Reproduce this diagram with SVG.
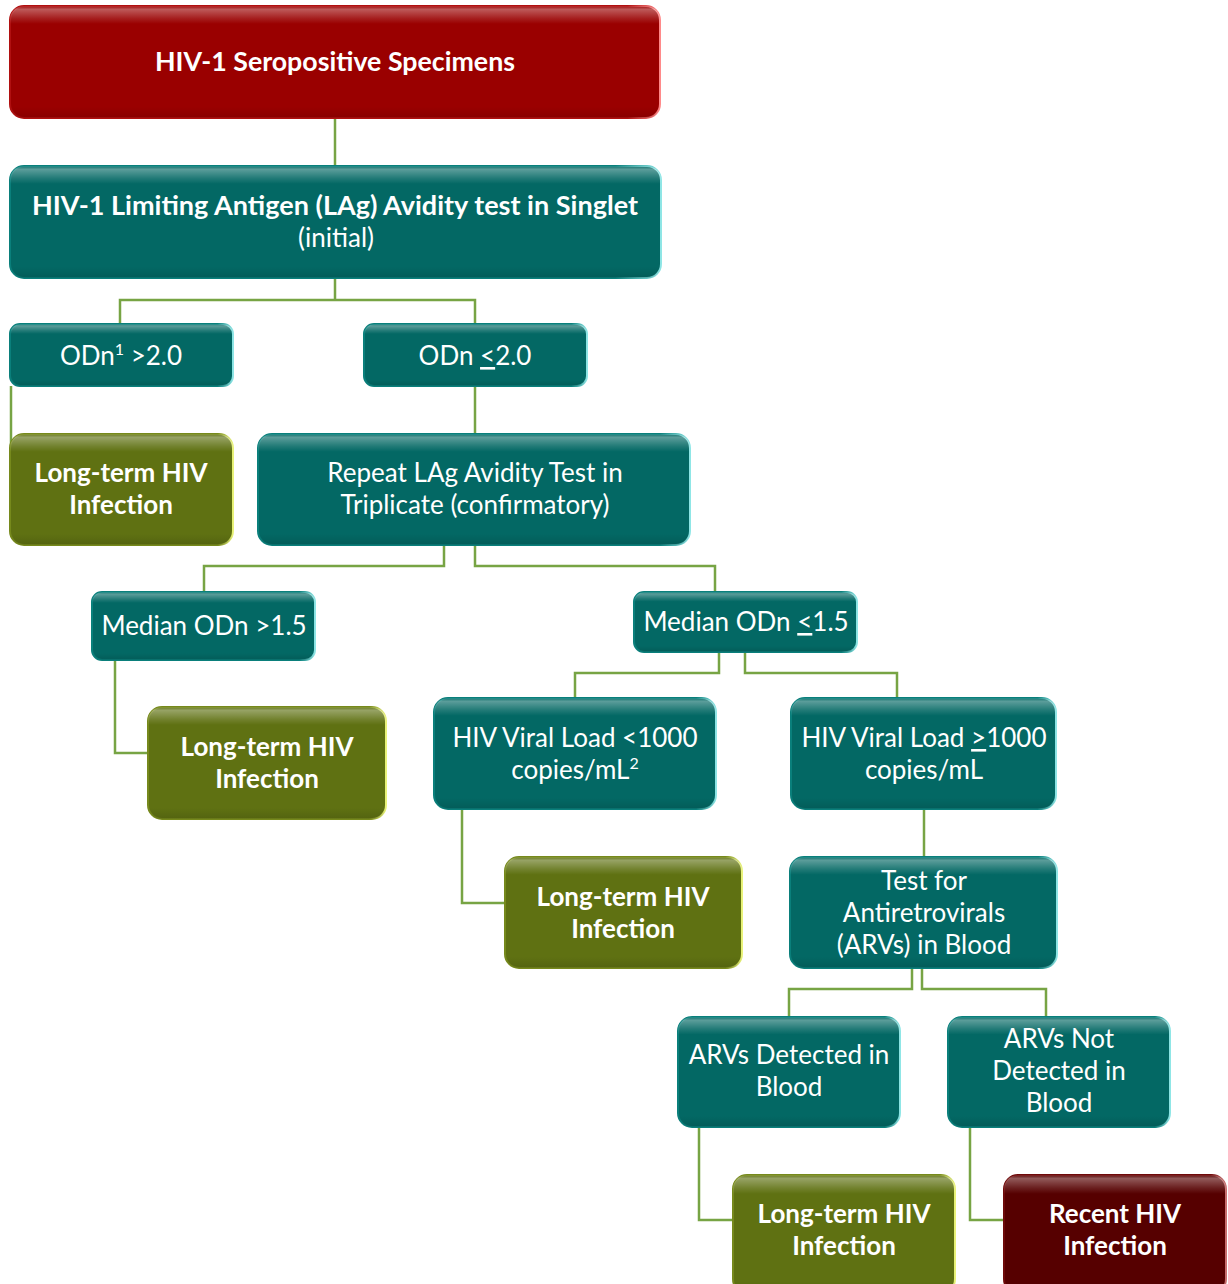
<svg xmlns="http://www.w3.org/2000/svg" width="1228" height="1284" viewBox="0 0 1228 1284">
<defs>
<linearGradient id="gTop" x1="0" y1="0" x2="0" y2="1">
<stop offset="0" stop-color="#fff" stop-opacity="0.05"/>
<stop offset="0.03" stop-color="#fff" stop-opacity="0.35"/>
<stop offset="0.11" stop-color="#fff" stop-opacity="0.12"/>
<stop offset="0.16" stop-color="#fff" stop-opacity="0"/>
<stop offset="0.9" stop-color="#000" stop-opacity="0"/>
<stop offset="1" stop-color="#000" stop-opacity="0.12"/>
</linearGradient>
<linearGradient id="eTeal" x1="0" y1="0" x2="1" y2="0">
<stop offset="0" stop-color="#0a7f7b"/><stop offset="0.93" stop-color="#0a7f7b"/><stop offset="1" stop-color="#8fe6e6"/>
</linearGradient>
<linearGradient id="eRed" x1="0" y1="0" x2="1" y2="0">
<stop offset="0" stop-color="#b01010"/><stop offset="0.95" stop-color="#b01010"/><stop offset="1" stop-color="#ff8a8a"/>
</linearGradient>
<linearGradient id="eOlive" x1="0" y1="0" x2="1" y2="0">
<stop offset="0" stop-color="#76891c"/><stop offset="0.93" stop-color="#76891c"/><stop offset="1" stop-color="#e9f37a"/>
</linearGradient>
<linearGradient id="eDark" x1="0" y1="0" x2="1" y2="0">
<stop offset="0" stop-color="#6e0a0a"/><stop offset="0.93" stop-color="#6e0a0a"/><stop offset="1" stop-color="#c87070"/>
</linearGradient>
<style>
.teal .b{fill:#036864;stroke:url(#eTeal);stroke-width:2}
.red .b{fill:#9a0000;stroke:url(#eRed);stroke-width:2}
.olive .b{fill:#5f7112;stroke:url(#eOlive);stroke-width:2}
.dark .b{fill:#560000;stroke:url(#eDark);stroke-width:2}
.h{fill:url(#gTop);stroke:none}
text{font-family:Lato,"Open Sans","Liberation Sans",sans-serif;font-size:26px;fill:#fff;text-anchor:middle}
.bd{font-weight:bold}
.u{text-decoration:underline}
#connectors path{fill:none;stroke:#77a444;stroke-width:2.5}
</style>
</defs>

<g id="connectors">
<path d="M335 118V166"/>
<path d="M335 278V300H120V324M335 300H475V324"/>
<path d="M11 386V480"/>
<path d="M475 386V434"/>
<path d="M444 545V566H204V592M475 545V566H715V592"/>
<path d="M115 660V753H148"/>
<path d="M719 652V673H575V698M745 652V673H897V698"/>
<path d="M462 809V903H505"/>
<path d="M924 809V857"/>
<path d="M912 968V989H789V1017M922 968V989H1046V1017"/>
<path d="M699 1127V1220H733"/>
<path d="M970 1127V1220H1004"/>
</g>

<g id="n-sero" class="red">
<rect class="b" x="10" y="6" width="650" height="112" rx="14"/>
<rect class="h" x="10" y="6" width="650" height="112" rx="14"/>
<text class="bd" x="335" y="71" textLength="360" lengthAdjust="spacingAndGlyphs">HIV-1 Seropositive Specimens</text>
</g>

<g id="n-lag" class="teal">
<rect class="b" x="10" y="166" width="651" height="112" rx="14"/>
<rect class="h" x="10" y="166" width="651" height="112" rx="14"/>
<text class="bd" x="335" y="215" textLength="606" lengthAdjust="spacingAndGlyphs">HIV-1 Limiting Antigen (LAg) Avidity test in Singlet</text>
<text x="336" y="247">(initial)</text>
</g>

<g id="n-odn-hi" class="teal">
<rect class="b" x="10" y="324" width="223" height="62" rx="10"/>
<rect class="h" x="10" y="324" width="223" height="62" rx="10"/>
<text x="121" y="365">ODn<tspan font-size="16" dy="-10">1</tspan><tspan dy="10"> &gt;2.0</tspan></text>
</g>

<g id="n-odn-lo" class="teal">
<rect class="b" x="364" y="324" width="223" height="62" rx="10"/>
<rect class="h" x="364" y="324" width="223" height="62" rx="10"/>
<text x="475" y="365">ODn <tspan class="u">&lt;</tspan>2.0</text>
</g>

<g id="n-lt1" class="olive">
<rect class="b" x="10" y="434" width="223" height="111" rx="14"/>
<rect class="h" x="10" y="434" width="223" height="111" rx="14"/>
<text class="bd" x="121" y="482">Long-term HIV</text>
<text class="bd" x="121" y="514">Infection</text>
</g>

<g id="n-repeat" class="teal">
<rect class="b" x="258" y="434" width="432" height="111" rx="14"/>
<rect class="h" x="258" y="434" width="432" height="111" rx="14"/>
<text x="475" y="482">Repeat LAg Avidity Test in</text>
<text x="475" y="514">Triplicate (confirmatory)</text>
</g>

<g id="n-med-hi" class="teal">
<rect class="b" x="92" y="592" width="223" height="68" rx="10"/>
<rect class="h" x="92" y="592" width="223" height="68" rx="10"/>
<text x="204" y="635">Median ODn &gt;1.5</text>
</g>

<g id="n-med-lo" class="teal">
<rect class="b" x="634" y="592" width="223" height="60" rx="10"/>
<rect class="h" x="634" y="592" width="223" height="60" rx="10"/>
<text x="746" y="631">Median ODn <tspan class="u">&lt;</tspan>1.5</text>
</g>

<g id="n-lt2" class="olive">
<rect class="b" x="148" y="707" width="238" height="112" rx="14"/>
<rect class="h" x="148" y="707" width="238" height="112" rx="14"/>
<text class="bd" x="267" y="756">Long-term HIV</text>
<text class="bd" x="267" y="788">Infection</text>
</g>

<g id="n-vl-lo" class="teal">
<rect class="b" x="434" y="698" width="282" height="111" rx="14"/>
<rect class="h" x="434" y="698" width="282" height="111" rx="14"/>
<text x="575" y="747">HIV Viral Load &lt;1000</text>
<text x="575" y="779">copies/mL<tspan font-size="16" dy="-10">2</tspan></text>
</g>

<g id="n-vl-hi" class="teal">
<rect class="b" x="791" y="698" width="265" height="111" rx="14"/>
<rect class="h" x="791" y="698" width="265" height="111" rx="14"/>
<text x="924" y="747">HIV Viral Load <tspan class="u">&gt;</tspan>1000</text>
<text x="924" y="779">copies/mL</text>
</g>

<g id="n-lt3" class="olive">
<rect class="b" x="505" y="857" width="237" height="111" rx="14"/>
<rect class="h" x="505" y="857" width="237" height="111" rx="14"/>
<text class="bd" x="623" y="906">Long-term HIV</text>
<text class="bd" x="623" y="938">Infection</text>
</g>

<g id="n-arv-test" class="teal">
<rect class="b" x="790" y="857" width="267" height="111" rx="14"/>
<rect class="h" x="790" y="857" width="267" height="111" rx="14"/>
<text x="924" y="890">Test for</text>
<text x="924" y="922">Antiretrovirals</text>
<text x="924" y="954">(ARVs) in Blood</text>
</g>

<g id="n-arv-yes" class="teal">
<rect class="b" x="678" y="1017" width="222" height="110" rx="14"/>
<rect class="h" x="678" y="1017" width="222" height="110" rx="14"/>
<text x="789" y="1064">ARVs Detected in</text>
<text x="789" y="1096">Blood</text>
</g>

<g id="n-arv-no" class="teal">
<rect class="b" x="948" y="1017" width="222" height="110" rx="14"/>
<rect class="h" x="948" y="1017" width="222" height="110" rx="14"/>
<text x="1059" y="1048">ARVs Not</text>
<text x="1059" y="1080">Detected in</text>
<text x="1059" y="1112">Blood</text>
</g>

<g id="n-lt4" class="olive">
<rect class="b" x="733" y="1175" width="222" height="118" rx="14"/>
<rect class="h" x="733" y="1175" width="222" height="118" rx="14"/>
<text class="bd" x="844" y="1223">Long-term HIV</text>
<text class="bd" x="844" y="1255">Infection</text>
</g>

<g id="n-recent" class="dark">
<rect class="b" x="1004" y="1175" width="222" height="118" rx="14"/>
<rect class="h" x="1004" y="1175" width="222" height="118" rx="14"/>
<text class="bd" x="1115" y="1223">Recent HIV</text>
<text class="bd" x="1115" y="1255">Infection</text>
</g>
</svg>
